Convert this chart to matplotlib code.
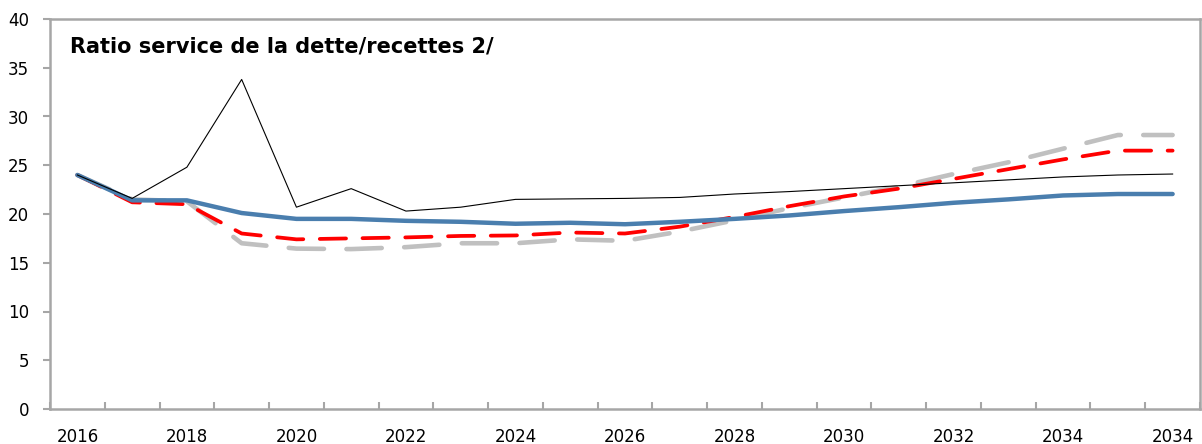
import matplotlib
matplotlib.use("Agg")
import matplotlib.pyplot as plt
import numpy as np

plt.rcParams['font.family'] = ['DejaVu Sans']

# Category axis labels (every second year shown)
tick_labels = ["2016", "2018", "2020", "2022", "2024", "2026", "2028",
               "2030", "2032", "2034", "2034"]

# Debt service / revenue ratio, by scenario
baseline = [24.0, 21.4, 21.4, 20.1, 19.5, 19.5, 19.3, 19.2, 19.0, 19.1, 18.95,
            19.2, 19.5, 19.85, 20.3, 20.7, 21.15, 21.5, 21.9, 22.05, 22.05]
historical = [24.0, 21.6, 24.8, 33.8, 20.7, 22.6, 20.3, 20.7, 21.5, 21.55, 21.6,
              21.7, 22.05, 22.3, 22.6, 22.9, 23.2, 23.5, 23.8, 24.0, 24.1]
scenario_red = [24.0, 21.2, 21.0, 18.0, 17.4, 17.5, 17.6, 17.75, 17.8, 18.1, 18.0,
                18.7, 19.7, 20.8, 21.8, 22.6, 23.6, 24.6, 25.6, 26.5, 26.5]
scenario_grey = [24.0, 21.5, 21.3, 17.0, 16.45, 16.4, 16.6, 17.0, 17.0, 17.4, 17.25,
                 18.2, 19.35, 20.6, 21.7, 22.8, 24.1, 25.3, 26.7, 28.1, 28.1]

x = np.arange(len(baseline))

fig = plt.figure(figsize=(12.02, 4.44), dpi=100)
ax = fig.add_axes([50 / 1202, 35 / 444, 1150 / 1202, 390 / 444])

ax.plot(x, scenario_grey, color="#C0C0C0", lw=3.3, dashes=(7.7, 4.9),
        dash_capstyle="round", zorder=2)
ax.plot(x, scenario_red, color="#FF0000", lw=2.7, dashes=(7.0, 4.4),
        dash_capstyle="round", zorder=3)
ax.plot(x, historical, color="black", lw=0.8, zorder=4)
ax.plot(x, baseline, color="#4A7EAE", lw=3.2, solid_capstyle="round", zorder=3)

ax.set_xlim(-0.5, len(baseline) - 0.5)
ax.set_ylim(0, 40)
ax.set_yticks(np.arange(0, 41, 5))

# Tick marks on category boundaries, labels on every other category
ax.set_xticks(np.arange(-0.5, len(baseline), 1.0))
ax.set_xticklabels([])
ax.set_xticks(np.arange(0, len(baseline), 2), tick_labels, minor=True)
ax.tick_params(axis="x", which="major", direction="in", length=5, width=1.5,
               color="#A6A6A6")
ax.tick_params(axis="x", which="minor", length=0, pad=14, labelsize=12)
ax.tick_params(axis="y", direction="out", length=5, width=1.5, color="#A6A6A6",
               pad=10, labelsize=12)

for s in ax.spines.values():
    s.set_color("#A6A6A6")
    s.set_linewidth(1.8)

ax.text(70 / 1202, 1 - 47 / 444, "Ratio service de la dette/recettes 2/",
        transform=fig.transFigure, fontsize=15, fontweight="bold",
        va="center", ha="left")

fig.savefig("out.png", dpi=100)
